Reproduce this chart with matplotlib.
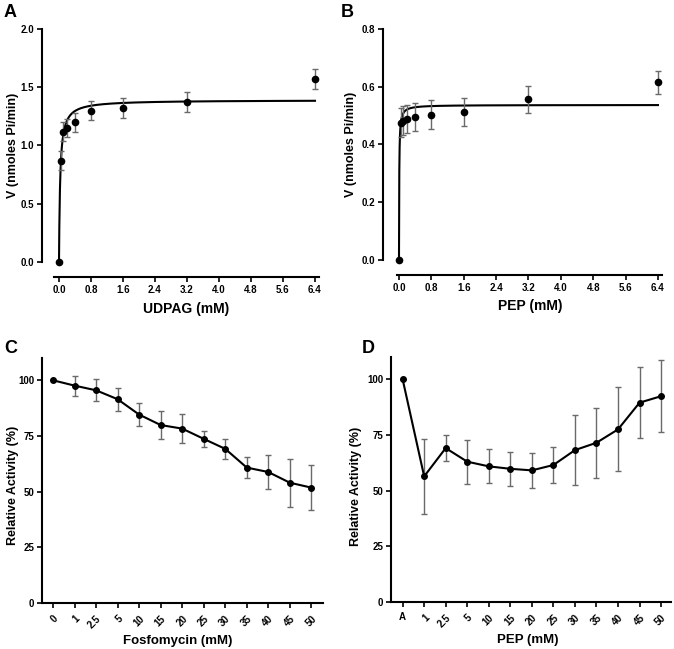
import matplotlib
matplotlib.use("Agg")
import matplotlib.pyplot as plt
import numpy as np

plt.rcParams['font.family'] = ['Liberation Sans', 'DejaVu Sans']
plt.rcParams['font.weight'] = 'bold'

# %%
# Data

# A - UDPAG kinetics
udpag_mm = [0, 0.05, 0.1, 0.2, 0.4, 0.8, 1.6, 3.2, 6.4]
udpag_v = [0.0, 0.87, 1.12, 1.15, 1.20, 1.30, 1.32, 1.37, 1.57]
udpag_err = [0.0, 0.08, 0.08, 0.075, 0.08, 0.085, 0.085, 0.085, 0.086]
udpag_vmax, udpag_km = 1.39, 0.029

# B - PEP kinetics
pep_mm = [0, 0.05, 0.1, 0.2, 0.4, 0.8, 1.6, 3.2, 6.4]
pep_v = [0.0, 0.475, 0.482, 0.488, 0.496, 0.503, 0.513, 0.557, 0.615]
pep_err = [0.0, 0.05, 0.05, 0.048, 0.049, 0.05, 0.048, 0.047, 0.039]
pep_vmax, pep_km = 0.537, 0.006

# C - fosfomycin inhibition
fos_labels = ['0', '1', '2.5', '5', '10', '15', '20', '25', '30', '35', '40', '45', '50']
fos_act = [100, 97.6, 95.5, 91.5, 84.6, 79.9, 78.3, 73.7, 69.2, 60.8, 58.8, 54.0, 51.8]
fos_err = [0, 4.5, 4.9, 5.2, 5.0, 6.3, 6.5, 3.5, 4.6, 4.8, 7.8, 10.8, 10.2]

# D - PEP effect on activity
pepd_labels = ['A', '1', '2.5', '5', '10', '15', '20', '25', '30', '35', '40', '45', '50']
pepd_act = [100, 56.4, 69.1, 63.0, 60.9, 59.8, 59.1, 61.5, 68.2, 71.5, 77.5, 89.5, 92.4]
pepd_err = [0, 17.0, 5.8, 9.8, 7.6, 7.5, 7.7, 8.2, 15.6, 15.7, 18.9, 15.8, 16.2]

# %%
W, H = 674, 649
fig = plt.figure(figsize=(W / 100, H / 100), dpi=100)


def add_ax(left, top, right, bottom):
    # pixel box -> figure fraction
    return fig.add_axes([left / W, 1 - bottom / H, (right - left) / W, (bottom - top) / H])


def style(ax):
    for s in ['top', 'right']:
        ax.spines[s].set_visible(False)
    for s in ['left', 'bottom']:
        ax.spines[s].set_linewidth(1.5)
    ax.tick_params(direction='out', length=3.5, width=1.2, labelsize=7, pad=2)
    for lbl in ax.get_xticklabels() + ax.get_yticklabels():
        lbl.set_fontweight('bold')


ecol = '#6a6a6a'


def kinetics(ax, x, y, err, vmax, km, xlim, ylim, xbound, yticks, ylabel, xlabel):
    s = np.linspace(0, max(x), 800)
    ax.plot(s, vmax * s / (km + s), color='black', lw=1.5, clip_on=False)
    ax.errorbar(x, y, yerr=err, fmt='o', color='black', ms=4.5, ecolor=ecol,
                elinewidth=1, capsize=2.5, capthick=1, clip_on=False)
    ax.set_xlim(*xlim)
    ax.set_ylim(*ylim)
    ax.spines['left'].set_bounds(0, yticks[-1])
    ax.spines['bottom'].set_bounds(*xbound)
    ax.set_xticks(np.arange(0, 6.41, 0.8))
    ax.set_xticklabels([f'{v:.1f}' for v in np.arange(0, 6.41, 0.8)])
    ax.set_yticks(yticks)
    ax.set_yticklabels([f'{v:.1f}' for v in yticks])
    ax.set_ylabel(ylabel, fontsize=9, fontweight='bold')
    ax.set_xlabel(xlabel, fontsize=10, fontweight='bold')
    style(ax)


axA = add_ax(42, 29, 319, 277)
kinetics(axA, udpag_mm, udpag_v, udpag_err, udpag_vmax, udpag_km,
         (-0.425, 6.5), (-0.129, 2.0), (-0.125, 6.5), [0.0, 0.5, 1.0, 1.5, 2.0],
         'V (nmoles Pi/min)', 'UDPAG (mM)')
axA.yaxis.set_label_coords(-0.083, 0.53)
axA.xaxis.set_label_coords(0.522, -0.10)

axB = add_ax(383, 29, 662, 275)
kinetics(axB, pep_mm, pep_v, pep_err, pep_vmax, pep_km,
         (-0.395, 6.5), (-0.052, 0.8), (-0.05, 6.5), [0.0, 0.2, 0.4, 0.6, 0.8],
         'V (nmoles Pi/min)', 'PEP (mM)')
axB.yaxis.set_label_coords(-0.093, 0.53)
axB.xaxis.set_label_coords(0.527, -0.098)


def activity(ax, labels, act, err, xlim, xlabel, upright_first=False):
    idx = np.arange(len(labels))
    ax.errorbar(idx, act, yerr=err, fmt='-o', color='black', lw=1.5, ms=4,
                ecolor=ecol, elinewidth=1, capsize=2.5, capthick=1, clip_on=False)
    ax.set_xlim(*xlim)
    ax.set_ylim(0, 110)
    ax.spines['left'].set_bounds(0, 110)
    ax.set_yticks([0, 25, 50, 75, 100])
    ax.set_xticks(idx)
    ax.set_xticklabels(labels, rotation=45, ha='right', rotation_mode='anchor')
    if upright_first:
        first = ax.get_xticklabels()[0]
        first.set_rotation(0)
        first.set_ha('center')
    ax.set_ylabel('Relative Activity (%)', fontsize=9, fontweight='bold')
    ax.set_xlabel(xlabel, fontsize=9.5, fontweight='bold')
    style(ax)
    ax.tick_params(axis='x', pad=4)


axC = add_ax(42, 358, 323, 603)
activity(axC, fos_labels, fos_act, fos_err, (-0.51, 12.54), 'Fosfomycin (mM)')
axC.yaxis.set_label_coords(-0.082, 0.48)
axC.xaxis.set_label_coords(0.482, -0.13)

axD = add_ax(391, 357, 671, 602)
activity(axD, pepd_labels, pepd_act, pepd_err, (-0.54, 12.46), 'PEP (mM)', upright_first=True)
axD.yaxis.set_label_coords(-0.104, 0.47)
axD.xaxis.set_label_coords(0.489, -0.13)

for letter, px, py in [('A', 4, 4), ('B', 341, 4), ('C', 4, 340), ('D', 362, 340)]:
    fig.text(px / W, 1 - py / H, letter, fontsize=13, fontweight='bold', va='top', ha='left')

fig.savefig('out.png', dpi=100)
